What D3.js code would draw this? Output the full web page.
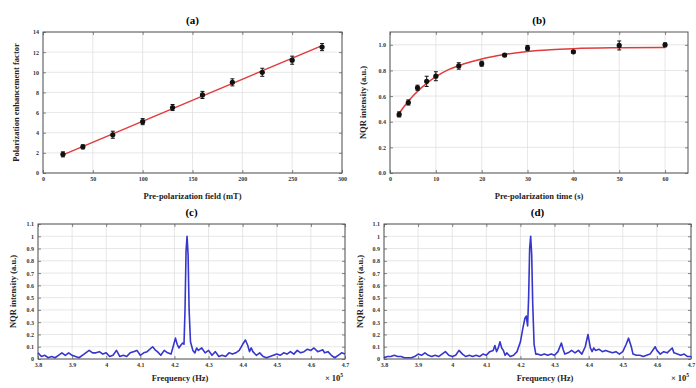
<!DOCTYPE html>
<html><head><meta charset="utf-8">
<script src="https://cdn.jsdelivr.net/npm/d3@7/dist/d3.min.js"></script>
<style>
body{margin:0;background:#fff;}
svg{display:block;}
</style></head>
<body>
<svg id="c" width="696" height="388"></svg>
<script>
// ---------- DATA ----------
// (a)
const fieldMT = [20, 40, 70, 100, 130, 160, 190, 220, 250, 280];
const enhance = [1.85, 2.6, 3.8, 5.1, 6.5, 7.75, 9.0, 10.0, 11.2, 12.5];
const enhanceErr = [0.25, 0.2, 0.35, 0.3, 0.3, 0.35, 0.35, 0.4, 0.4, 0.35];
const fitA = [[20, 1.8], [280, 12.65]];
const xTicksA = [0, 50, 100, 150, 200, 250, 300];
const yTicksA = [0, 2, 4, 6, 8, 10, 12, 14];
// (b)
const timeS = [2, 4, 6, 8, 10, 15, 20, 25, 30, 40, 50, 60];
const intensB = [0.457, 0.55, 0.665, 0.715, 0.755, 0.835, 0.853, 0.92, 0.975, 0.945, 0.995, 1.0];
const intensErr = [0.02, 0.02, 0.02, 0.04, 0.035, 0.025, 0.02, 0.012, 0.02, 0.01, 0.035, 0.015];
const fitB = [[1.5,0.44],[3,0.515],[5,0.6],[7,0.67],[10,0.752],[13,0.81],[16,0.85],[20,0.89],[25,0.925],[30,0.948],[35,0.962],[40,0.97],[50,0.977],[60,0.98]];
const xTicksB = [0, 10, 20, 30, 40, 50, 60];
const yTicksB = [0, 0.2, 0.4, 0.6, 0.8, 1.0];
// (c), (d) spectra: [frequency (x10^5 Hz), intensity]
const specC = [[3.80,0.05],[3.81,0.02],[3.82,0.03],[3.83,0.01],[3.84,0.02],[3.85,0.01],[3.86,0.03],[3.87,0.05],[3.88,0.03],[3.89,0.05],
[3.90,0.03],[3.91,0.02],[3.92,0.01],[3.93,0.03],[3.94,0.05],[3.95,0.07],[3.96,0.05],[3.97,0.05],[3.98,0.06],[3.99,0.04],
[4.00,0.05],[4.01,0.02],[4.02,0.03],[4.03,0.07],[4.04,0.02],[4.05,0.03],[4.06,0.02],[4.07,0.05],[4.08,0.06],[4.09,0.07],
[4.10,0.03],[4.11,0.05],[4.12,0.06],[4.136,0.10],[4.145,0.07],[4.15,0.06],[4.16,0.03],[4.17,0.07],[4.18,0.05],[4.19,0.04],
[4.195,0.09],[4.203,0.17],[4.208,0.12],[4.213,0.09],[4.218,0.11],[4.224,0.13],[4.228,0.12],[4.231,0.4],[4.234,0.88],[4.237,1.0],
[4.240,0.85],[4.243,0.4],[4.247,0.14],[4.254,0.07],[4.26,0.05],[4.265,0.09],[4.27,0.07],[4.28,0.09],[4.29,0.05],[4.30,0.07],
[4.31,0.03],[4.32,0.06],[4.33,0.02],[4.34,0.03],[4.35,0.02],[4.36,0.05],[4.37,0.04],[4.38,0.05],[4.39,0.07],[4.40,0.12],
[4.408,0.155],[4.415,0.11],[4.42,0.06],[4.425,0.09],[4.43,0.06],[4.44,0.03],[4.45,0.05],[4.46,0.02],[4.47,0.01],[4.48,0.02],
[4.49,0.03],[4.50,0.04],[4.51,0.03],[4.52,0.05],[4.53,0.04],[4.54,0.06],[4.55,0.04],[4.56,0.07],[4.57,0.05],[4.58,0.06],
[4.59,0.08],[4.60,0.07],[4.609,0.09],[4.62,0.06],[4.635,0.075],[4.64,0.05],[4.65,0.06],[4.66,0.03],[4.67,0.01],[4.68,0.03],
[4.69,0.05],[4.70,0.04]];
const specD = [[3.80,0.01],[3.81,0.02],[3.82,0.02],[3.83,0.03],[3.84,0.02],[3.85,0.02],[3.86,0.01],[3.87,0.01],[3.88,0.01],[3.89,0.02],
[3.90,0.04],[3.91,0.03],[3.92,0.05],[3.93,0.03],[3.94,0.02],[3.95,0.03],[3.96,0.02],[3.97,0.04],[3.98,0.06],[3.99,0.03],
[4.00,0.02],[4.01,0.03],[4.02,0.07],[4.03,0.04],[4.04,0.02],[4.05,0.03],[4.06,0.02],[4.07,0.03],[4.08,0.02],[4.09,0.04],
[4.10,0.03],[4.11,0.06],[4.12,0.07],[4.125,0.11],[4.13,0.06],[4.135,0.09],[4.14,0.14],[4.145,0.09],[4.15,0.07],[4.155,0.03],
[4.16,0.05],[4.17,0.02],[4.18,0.03],[4.19,0.06],[4.20,0.14],[4.207,0.25],[4.213,0.33],[4.217,0.35],[4.221,0.27],[4.224,0.5],
[4.227,0.9],[4.230,1.0],[4.233,0.85],[4.236,0.45],[4.24,0.12],[4.245,0.04],[4.25,0.04],[4.26,0.03],[4.27,0.04],[4.28,0.03],
[4.29,0.04],[4.30,0.03],[4.31,0.06],[4.32,0.13],[4.325,0.08],[4.33,0.04],[4.34,0.05],[4.35,0.07],[4.36,0.05],[4.37,0.07],
[4.38,0.04],[4.39,0.10],[4.398,0.2],[4.405,0.09],[4.41,0.06],[4.415,0.09],[4.42,0.07],[4.43,0.08],[4.44,0.06],[4.45,0.07],
[4.46,0.06],[4.47,0.05],[4.48,0.06],[4.49,0.04],[4.50,0.06],[4.51,0.12],[4.517,0.17],[4.525,0.10],[4.53,0.04],[4.54,0.03],
[4.55,0.03],[4.56,0.02],[4.57,0.03],[4.58,0.04],[4.59,0.08],[4.595,0.10],[4.60,0.07],[4.61,0.04],[4.62,0.06],[4.63,0.05],
[4.645,0.09],[4.65,0.05],[4.66,0.04],[4.67,0.03],[4.68,0.04],[4.69,0.02],[4.70,0.02]];
const xTicksCD = [3.8, 3.9, 4.0, 4.1, 4.2, 4.3, 4.4, 4.5, 4.6, 4.7];
const xTickLabelsCD = ["3.8","3.9","4","4.1","4.2","4.3","4.4","4.5","4.6","4.7"];
const yTicksCD = [0, 0.1, 0.2, 0.3, 0.4, 0.5, 0.6, 0.7, 0.8, 0.9, 1.0, 1.1];
const yTickLabelsCD = ["0","0.1","0.2","0.3","0.4","0.5","0.6","0.7","0.8","0.9","1","1.1"];

// ---------- DRAW ----------
const svg = d3.select("#c");
const serif = "'Liberation Serif','Times New Roman',serif";

function panel(o) {
  const x = d3.scaleLinear().domain(o.xd).range([o.l, o.r]);
  const y = d3.scaleLinear().domain(o.yd).range([o.b, o.t]);
  const g = svg.append("g");
  g.append("g").selectAll("line").data(o.xt).join("line")
    .attr("x1", d => x(d)).attr("x2", d => x(d)).attr("y1", o.t).attr("y2", o.b)
    .attr("stroke", "#dcdcdc").attr("stroke-width", 0.7);
  g.append("g").selectAll("line").data(o.yt).join("line")
    .attr("y1", d => y(d)).attr("y2", d => y(d)).attr("x1", o.l).attr("x2", o.r)
    .attr("stroke", "#dcdcdc").attr("stroke-width", 0.7);
  const fx = o.xl ? (d, i) => o.xl[i] : o.xf;
  const fy = o.yl ? (d, i) => o.yl[i] : o.yf;
  g.append("g").attr("transform", `translate(0,${o.b})`)
    .call(d3.axisBottom(x).tickValues(o.xt).tickFormat(fx).tickSizeInner(-3).tickSizeOuter(0).tickPadding(4));
  g.append("g").attr("transform", `translate(${o.l},0)`)
    .call(d3.axisLeft(y).tickValues(o.yt).tickFormat(fy).tickSizeInner(-3).tickSizeOuter(0).tickPadding(4));
  g.append("g").attr("transform", `translate(0,${o.t})`)
    .call(d3.axisTop(x).tickValues(o.xt).tickFormat("").tickSizeInner(-3).tickSizeOuter(0));
  g.append("g").attr("transform", `translate(${o.r},0)`)
    .call(d3.axisRight(y).tickValues(o.yt).tickFormat("").tickSizeInner(-3).tickSizeOuter(0));
  g.selectAll(".domain").attr("stroke", "none");
  g.selectAll(".tick line").attr("stroke", "#555").attr("stroke-width", 0.7);
  g.selectAll(".tick text").attr("font-family", serif).attr("font-size", 6).attr("font-weight", "bold").attr("fill", "#333");
  g.append("rect").attr("x", o.l).attr("y", o.t).attr("width", o.r - o.l).attr("height", o.b - o.t)
    .attr("fill", "none").attr("stroke", "#555").attr("stroke-width", 1);
  g.append("text").attr("x", (o.l + o.r) / 2).attr("y", o.t - 8).attr("text-anchor", "middle")
    .attr("font-family", serif).attr("font-weight", "bold").attr("font-size", 11).text(o.title);
  g.append("text").attr("x", o.xlx || (o.l + o.r) / 2).attr("y", o.xly).attr("text-anchor", "middle")
    .attr("font-family", serif).attr("font-weight", "bold").attr("font-size", 8.5).attr("fill", "#222").text(o.xlab);
  g.append("text").attr("transform", `translate(${o.ylx},${(o.t + o.b) / 2}) rotate(-90)`)
    .attr("text-anchor", "middle").attr("dominant-baseline", "middle")
    .attr("font-family", serif).attr("font-weight", "bold").attr("font-size", 8.5).attr("fill", "#222").text(o.ylab);
  return {x, y, g};
}

function points(p, xs, ys, es, fit) {
  p.g.append("path").datum(fit)
    .attr("d", d3.line().x(d => p.x(d[0])).y(d => p.y(d[1])).curve(d3.curveMonotoneX))
    .attr("fill", "none").attr("stroke", "#e03c3c").attr("stroke-width", 1.5);
  const pts = xs.map((v, i) => ({x: v, y: ys[i], e: es[i]}));
  const eb = p.g.append("g").attr("stroke", "#111").attr("stroke-width", 1);
  eb.selectAll("line.v").data(pts).join("line").attr("class", "v")
    .attr("x1", d => p.x(d.x)).attr("x2", d => p.x(d.x)).attr("y1", d => p.y(d.y - d.e)).attr("y2", d => p.y(d.y + d.e));
  eb.selectAll("line.t").data(pts).join("line").attr("class", "t")
    .attr("x1", d => p.x(d.x) - 2).attr("x2", d => p.x(d.x) + 2).attr("y1", d => p.y(d.y + d.e)).attr("y2", d => p.y(d.y + d.e));
  eb.selectAll("line.b").data(pts).join("line").attr("class", "b")
    .attr("x1", d => p.x(d.x) - 2).attr("x2", d => p.x(d.x) + 2).attr("y1", d => p.y(d.y - d.e)).attr("y2", d => p.y(d.y - d.e));
  p.g.append("g").selectAll("circle").data(pts).join("circle")
    .attr("cx", d => p.x(d.x)).attr("cy", d => p.y(d.y)).attr("r", 2.6).attr("fill", "#111");
}

function spectrum(p, data) {
  p.g.append("path").datum(data)
    .attr("d", d3.line().x(d => p.x(d[0])).y(d => p.y(d[1])))
    .attr("fill", "none").attr("stroke", "#3636cc").attr("stroke-width", 1.6).attr("stroke-linejoin", "round");
}

const pa = panel({l: 43, r: 342, t: 32, b: 173, xd: [0, 300], yd: [0, 14], xt: xTicksA, yt: yTicksA,
  xf: d3.format("d"), yf: d3.format("d"), title: "(a)", xlab: "Pre-polarization field (mT)", xly: 199,
  ylab: "Polarization enhancement factor", ylx: 17});
points(pa, fieldMT, enhance, enhanceErr, fitA);

const pb = panel({l: 390, r: 688, t: 32, b: 173, xd: [0, 65], yd: [0, 1.1], xt: xTicksB, yt: yTicksB,
  xf: d3.format("d"), yf: d3.format(".1f"), title: "(b)", xlab: "Pre-polarization time (s)", xly: 199,
  ylab: "NQR intensity (a.u.)", ylx: 364});
points(pb, timeS, intensB, intensErr, fitB);

const pc = panel({l: 38, r: 345, t: 224, b: 359, xd: [3.8, 4.7], yd: [0, 1.1], xt: xTicksCD, yt: yTicksCD,
  xl: xTickLabelsCD, yl: yTickLabelsCD, title: "(c)", xlab: "Frequency (Hz)", xly: 381, xlx: 180,
  ylab: "NQR intensity (a.u.)", ylx: 14});
spectrum(pc, specC);

const pd = panel({l: 384, r: 691, t: 224, b: 359, xd: [3.8, 4.7], yd: [0, 1.1], xt: xTicksCD, yt: yTicksCD,
  xl: xTickLabelsCD, yl: yTickLabelsCD, title: "(d)", xlab: "Frequency (Hz)", xly: 381, xlx: 545,
  ylab: "NQR intensity (a.u.)", ylx: 361});
spectrum(pd, specD);

[[pc, 334], [pd, 680]].forEach(([p, cx]) => {
  const t = p.g.append("text").attr("x", cx).attr("y", 381).attr("text-anchor", "middle")
    .attr("font-family", serif).attr("font-weight", "bold").attr("font-size", 8.5).attr("fill", "#222");
  t.append("tspan").text("× 10");
  t.append("tspan").attr("font-size", 5.5).attr("dy", -4).text("5");
});
</script>
</body></html>
